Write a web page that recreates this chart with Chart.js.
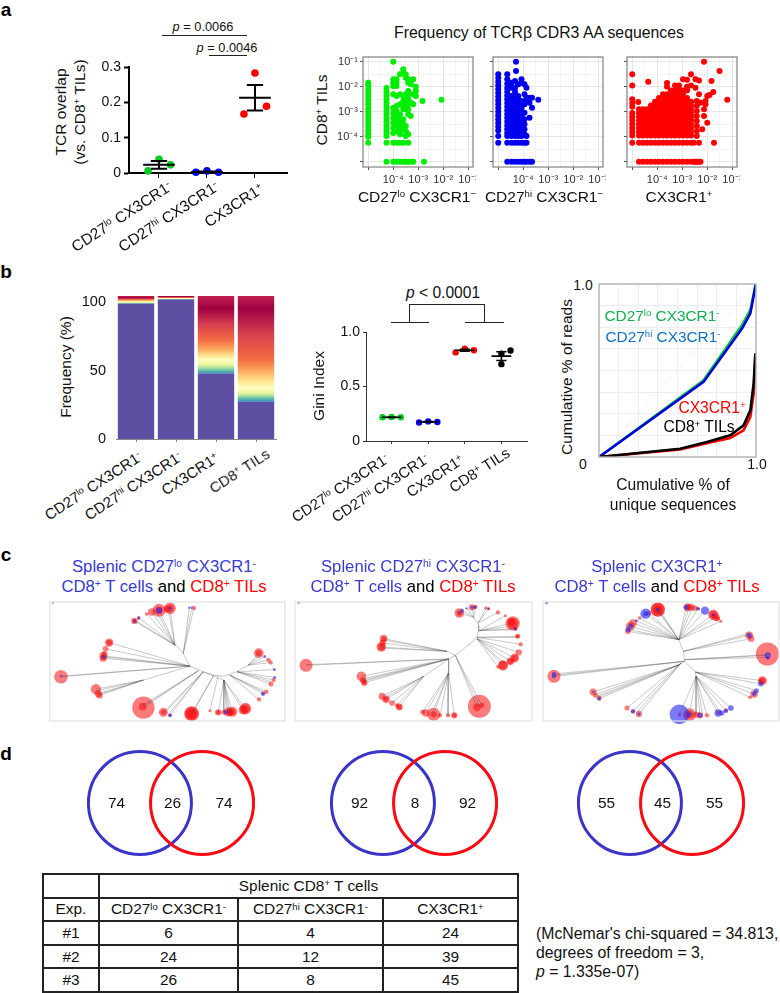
<!DOCTYPE html>
<html>
<head>
<meta charset="utf-8">
<title>TCR repertoire figure</title>
<script src="https://cdn.jsdelivr.net/npm/chart.js@4"></script>
<style>
  html, body { margin: 0; padding: 0; background: #fff; }
  body { position: relative; width: 780px; height: 993px; overflow: hidden; font-family: "Liberation Sans", Arial, sans-serif; color: #111; }
  canvas { position: absolute; display: block; }
  .lab { position: absolute; white-space: nowrap; line-height: 1; }
  .rule { position: absolute; background: #222; }
  sup { font-size: 0.62em; line-height: 0; vertical-align: baseline; position: relative; top: -0.5em; }
  table { position: absolute; left: 42px; top: 873px; width: 475px; height: 120px; border-collapse: collapse; table-layout: fixed; font-size: 15.4px; }
  td { border: 2px solid #222; text-align: center; padding: 0; color: #111; }
</style>
</head>
<body>
<script>
// ---- panel a, left: TCR overlap
const subsetNames = ["CD27<sup>lo</sup> CX3CR1<sup>-</sup>", "CD27<sup>hi</sup> CX3CR1<sup>-</sup>", "CX3CR1<sup>+</sup>"];
const overlapLo = [0.006, 0.039, 0.023];
const overlapHi = [0.002, 0.006, 0.002];
const overlapPos = [0.167, 0.283, 0.189];
const overlapMean = [0.023, 0.003, 0.213];
const overlapSem = [0.011, 0.001, 0.036];

// ---- panel a, right: frequencies (log10), one y list per x column
const loX = [-5, -4.27, -4, -3.87, -3.73, -3.6, -3.5, -3.4, -3.3, -3.2, -3.1, -2.83, -2.77, -2.07];
const loY = [
  [-1.84, -1.95, -2.1, -2.25, -2.4, -2.55, -2.7, -2.85, -3, -3.15, -3.3, -3.45, -3.6, -3.75, -3.9, -4, -4.24],
  [-2.05, -2.2, -2.35, -2.5, -2.65, -2.8, -2.95, -3.1, -3.25, -3.4, -3.55, -3.7, -3.85, -3.97, -4.24, -5],
  [-1, -1.7, -1.84, -1.97, -2.3, -2.85, -3.05, -3.25, -3.45, -3.65, -3.85, -4.24, -5],
  [-1.7, -1.84, -1.97, -2.37, -2.77, -2.97, -3.17, -3.37, -3.57, -3.77, -4.24, -5],
  [-1.5, -2.3, -2.7, -3.1, -3.3, -3.5, -3.7, -3.9, -4.24, -5],
  [-1.3, -1.45, -2.37, -2.57, -2.7, -2.9, -3.3, -3.5, -3.7, -4.24, -5],
  [-1.5, -1.64, -2.3, -2.44, -2.64, -2.77, -2.9, -3.57, -3.77, -3.97, -5],
  [-1.7, -1.84, -2.17, -2.3, -2.5, -2.7, -2.9, -3.1, -3.9, -4.24, -5],
  [-1.77, -1.9, -2.64, -3.17, -5],
  [-1.7, -2.3, -2.7, -5],
  [-2, -2.17, -2.37],
  [-2.57],
  [-5],
  [-2.52]
];
const hiX = [-5, -4.64, -4.47, -4.33, -4.29, -4.2, -4.07, -3.95, -3.87, -3.75, -3.65, -3.4];
const hiY = [
  [-1.5, -1.65, -1.8, -1.95, -2.1, -2.25, -2.4, -2.55, -2.7, -2.85, -3, -3.15, -3.3, -3.45, -3.6, -3.75, -3.97, -4.24],
  [-1.5, -1.7, -1.88, -2.05, -2.2, -2.35, -2.5, -2.65, -2.8, -2.95, -3.1, -3.25, -3.4, -3.55, -3.7, -3.85, -3.97, -4.24, -5],
  [-1.84, -2.04, -2.37, -2.5, -2.65, -2.8, -2.95, -3.1, -3.25, -3.4, -3.55, -3.7, -3.85, -3.97, -4.24, -5],
  [-1.77, -2.04, -2.2, -2.35, -2.5, -2.65, -2.8, -2.95, -3.1, -3.25, -3.4, -3.55, -3.7, -3.85, -3.97, -4.24, -5],
  [-1, -1.37],
  [-1.9, -2.37, -2.5, -2.65, -2.8, -2.95, -3.1, -3.25, -3.4, -3.55, -3.7, -3.85, -3.97, -4.24, -5],
  [-1.7, -1.84, -2.57, -2.7, -2.85, -3, -3.15, -3.3, -3.45, -3.6, -3.75, -3.97, -4.24, -5],
  [-1.9, -2.3, -2.7, -3.04, -3.3, -3.5, -3.7, -3.9, -4.24, -5],
  [-2.04, -2.44, -2.57, -3.97, -4.24, -5],
  [-2.44, -2.64, -3.24, -5],
  [-2.44, -2.84, -5],
  [-2.52]
];
const posX = [-5, -4.76, -4.73, -4.57, -4.41, -4.36, -4.25, -4.09, -3.93, -3.77, -3.61, -3.45, -3.29, -3.13, -2.97, -2.81, -2.65, -2.53, -2.47, -2.42, -2.33, -2.27, -2.2, -2.13, -2.07, -2, -1.91, -1.83, -1.76, -1.73, -1.51, -1.2];
const posY = [
  [-1.5, -1.95, -2.5, -2.65, -2.8, -3.05, -3.2, -3.35, -3.5, -3.65, -3.8, -3.95, -4.24],
  [-2.61],
  [-2.9, -3.05, -3.2, -3.35, -3.5, -3.65, -3.8, -3.95, -4.24, -5],
  [-2.9, -3.05, -3.2, -3.35, -3.5, -3.65, -3.8, -3.95, -4.24, -5],
  [-2.9, -3.05, -3.2, -3.35, -3.5, -3.65, -3.8, -3.95, -4.24, -5],
  [-1.8],
  [-2.75, -2.9, -3.05, -3.2, -3.35, -3.5, -3.65, -3.8, -3.95, -4.24, -5],
  [-2.6, -2.75, -2.9, -3.05, -3.2, -3.35, -3.5, -3.65, -3.8, -3.95, -4.24, -5],
  [-2.45, -2.6, -2.75, -2.9, -3.05, -3.2, -3.35, -3.5, -3.65, -3.8, -3.95, -4.24, -5],
  [-2.3, -2.45, -2.6, -2.75, -2.9, -3.05, -3.2, -3.35, -3.5, -3.65, -3.8, -3.95, -4.24, -5],
  [-1.85, -2, -2.3, -2.45, -2.6, -2.75, -2.9, -3.05, -3.2, -3.35, -3.5, -3.65, -3.8, -3.95, -4.24, -5],
  [-2.15, -2.3, -2.45, -2.6, -2.75, -2.9, -3.05, -3.2, -3.35, -3.5, -3.65, -3.8, -3.95, -4.24, -5],
  [-1.95, -2.15, -2.3, -2.45, -2.6, -2.75, -2.9, -3.05, -3.2, -3.35, -3.5, -3.65, -3.8, -3.95, -4.24, -5],
  [-1.95, -2.1, -2.25, -2.45, -2.6, -2.75, -2.9, -3.05, -3.2, -3.35, -3.5, -3.65, -3.8, -3.95, -4.24, -5],
  [-1.7, -2.15, -2.3, -2.45, -2.6, -2.75, -2.9, -3.05, -3.2, -3.35, -3.5, -3.65, -3.8, -3.95, -4.24, -5],
  [-1.72, -2, -2.15, -2.45, -2.6, -2.75, -2.9, -3.05, -3.2, -3.35, -3.5, -3.65, -3.8, -3.95, -4.24, -5],
  [-1.5, -1.95, -2.6, -2.75, -2.9, -3.05, -3.2, -3.35, -3.5, -3.65, -3.8, -3.95, -4.24, -5],
  [-4.24, -5],
  [-1.7, -2.04, -5],
  [-2.57, -2.77, -2.97, -3.17, -3.37, -3.57, -3.77, -3.97, -5],
  [-1.75, -2.3, -4.24, -5],
  [-2.64, -5],
  [-3.7],
  [-1, -2.9, -3.17],
  [-2.57, -2.7],
  [-2.37, -3.44],
  [-2.33],
  [-1.77],
  [-2.21],
  [-4.24],
  [-1.37],
  [-2.52]
];
const freqTickLabels = ["10\u207B\u2074", "10\u207B\u00B3", "10\u207B\u00B2", "10\u207B\u00B9"];

// ---- panel b
const cloneNames = ["CD27<sup>lo</sup> CX3CR1<sup>-</sup>", "CD27<sup>hi</sup> CX3CR1<sup>-</sup>", "CX3CR1<sup>+</sup>", "CD8<sup>+</sup> TILs"];
const topClones = [98.7, 101.7, 47.7, 27.2];
const otherClones = [5.7, 2.7, 56.7, 77.2];
const spectralColors = ["#3288bd", "#66c2a5", "#abdda4", "#e6f598", "#ffffbf", "#fee08b", "#fdae61", "#f46d43", "#d53e4f", "#9e0142", "#c2204f"];
const bandLevels = [
  [98.7, 99, 99.2, 99.5, 100, 100.6, 101.2, 101.7, 102.4, 103, 104.4],
  [101.7, 102, 102.2, 102.4, 102.6, 102.8, 103, 103.2, 103.6, 104, 104.4],
  [47.7, 50, 52, 54, 58, 61, 65, 72, 84, 95, 104.4],
  [27.2, 29.9, 31.5, 33.5, 37, 43, 49, 58, 77, 95, 104.4]
];
const giniLo = [0.218, 0.22, 0.218];
const giniHi = [0.17, 0.18, 0.175];
const giniPos = [0.813, 0.846, 0.832];
const giniTil = [0.8, 0.705, 0.83];
const giniMean = [0.218, 0.175, 0.832, 0.779];
const giniSem = [0.001, 0.003, 0.009, 0.04];
const lorenzX = [0, 0.666, 0.911, 0.964, 0.996, 1];
const lorenzLo = [0, 0.444, 0.763, 0.85, 0.99, 1];
const lorenzHi = [0, 0.434, 0.743, 0.83, 0.985, 1];
const lorenzSharedX = [0, 0.517, 0.687, 0.836, 0.921, 0.964, 0.985, 0.996];
const lorenzPos = [0, 0.044, 0.08, 0.11, 0.154, 0.232, 0.367, 0.58];
const lorenzTil = [0, 0.048, 0.087, 0.125, 0.183, 0.27, 0.425, 0.6];

// ---- panel c: clone trees, in layout units; fans are [hubX, hubY, leafX, leafY, ...], bubbles [x, y, r]
const tree1Trunk = [[515, 300, 550, 340, 570, 378, 610, 395, 640, 405, 670, 408, 710, 395, 745, 375], [570, 378, 430, 420], [610, 395, 672, 420]];
const tree1Fans = [
  [525, 315, 477, 210, 510, 204, 455, 215, 440, 221, 470, 215, 505, 208, 403, 242, 416, 233, 405, 240],
  [550, 340, 568, 202, 582, 203, 575, 203],
  [570, 378, 327, 307, 316, 326, 310, 347, 309, 354, 312, 350],
  [570, 378, 182, 410, 182, 408],
  [430, 420, 287, 447, 294, 460, 298, 466, 300, 462, 290, 452],
  [595, 392, 430, 503, 428, 500, 425, 497],
  [610, 395, 490, 517, 510, 526, 495, 517, 505, 524],
  [642, 405, 575, 521, 578, 519],
  [655, 406, 630, 512],
  [672, 420, 655, 517, 672, 517, 685, 516, 697, 515, 680, 515, 690, 516, 737, 506, 730, 510],
  [690, 405, 778, 478, 800, 455, 790, 461, 795, 458],
  [712, 395, 814, 432, 822, 420, 825, 412, 824, 388, 815, 425],
  [745, 375, 813, 367, 806, 359, 795, 349, 777, 339, 785, 342]
];
const tree1Red = [[477, 210, 18], [477, 210, 10], [510, 204, 16], [510, 204, 10], [500, 206, 8], [455, 215, 10], [440, 221, 4], [403, 242, 8], [403, 242, 5], [416, 233, 4], [582, 203, 5], [327, 307, 11], [327, 307, 7], [316, 326, 7], [310, 347, 11], [309, 354, 9], [312, 342, 7], [182, 410, 19], [287, 447, 14], [294, 460, 9], [298, 466, 8], [430, 503, 32], [428, 500, 10], [490, 517, 12], [490, 517, 6], [510, 526, 4], [575, 521, 21], [575, 521, 19], [575, 521, 14], [630, 512, 3], [655, 517, 8], [655, 517, 5], [672, 517, 6], [685, 516, 12], [697, 515, 14], [697, 515, 9], [690, 517, 9], [737, 506, 16], [737, 506, 12], [730, 510, 12], [778, 478, 5], [800, 455, 5], [790, 461, 3], [814, 432, 6], [822, 420, 5], [813, 367, 5], [806, 359, 5], [777, 339, 13], [777, 339, 7]];
const tree1Blue = [[477, 210, 8], [510, 204, 3], [403, 242, 3], [416, 233, 3], [568, 202, 2], [575, 202, 2], [310, 350, 4], [182, 408, 2], [795, 349, 3], [790, 461, 5], [825, 412, 3], [824, 388, 3], [678, 517, 5], [510, 526, 4], [158, 187, 2]];

const tree2Trunk = [[545, 58, 560, 80, 560, 100, 553, 122, 490, 172, 470, 183], [490, 172, 465, 160], [470, 183, 395, 235], [470, 183, 470, 225]];
const tree2Fans = [
  [465, 160, 275, 122, 272, 135, 268, 147, 266, 150, 274, 126],
  [470, 183, 42, 202, 42, 200],
  [470, 183, 208, 235, 213, 247, 217, 254, 212, 243, 214, 250],
  [395, 235, 270, 295, 282, 304, 300, 315, 322, 327, 315, 322, 278, 300],
  [470, 225, 392, 342, 402, 345, 425, 349, 444, 352, 468, 352, 487, 352, 420, 345],
  [490, 172, 562, 325, 555, 328, 570, 322],
  [555, 122, 633, 202, 655, 190, 668, 180, 680, 163, 618, 207, 640, 198],
  [555, 118, 677, 115, 686, 139, 675, 118],
  [562, 98, 660, 75, 670, 92, 640, 53, 650, 85, 662, 95],
  [558, 75, 618, 43, 582, 30, 590, 32],
  [545, 58, 502, 45, 510, 38, 524, 31, 540, 28, 550, 27]
];
const tree2Red = [[502, 45, 13], [502, 45, 7], [540, 28, 8], [550, 27, 5], [582, 30, 4], [590, 32, 3], [618, 43, 5], [640, 53, 3], [662, 76, 20], [662, 76, 15], [658, 72, 10], [670, 92, 5], [677, 115, 6], [677, 115, 4], [686, 139, 5], [680, 163, 8], [668, 180, 12], [668, 180, 8], [655, 190, 10], [655, 190, 7], [633, 202, 14], [633, 202, 12], [618, 207, 4], [562, 325, 33], [555, 328, 10], [570, 322, 6], [487, 352, 8], [487, 352, 5], [468, 352, 5], [444, 352, 5], [425, 349, 18], [425, 349, 8], [402, 345, 10], [392, 342, 6], [322, 327, 9], [322, 327, 6], [315, 322, 5], [300, 315, 7], [282, 304, 10], [282, 304, 6], [270, 295, 9], [217, 254, 8], [217, 254, 5], [213, 247, 8], [208, 235, 13], [275, 122, 10], [275, 122, 6], [272, 135, 8], [268, 147, 13], [268, 147, 9], [42, 202, 18]];
const tree2Blue = [[510, 38, 4], [524, 31, 2], [540, 28, 3], [550, 27, 3], [502, 45, 2], [590, 32, 2], [670, 93, 3], [20, 14, 2]];

const tree3Trunk = [[418, 125, 432, 160, 436, 190, 468, 222], [436, 190, 420, 200], [468, 222, 470, 235]];
const tree3Fans = [
  [418, 125, 355, 35, 350, 32, 360, 35],
  [418, 125, 318, 47, 328, 45, 300, 60],
  [418, 125, 265, 100, 272, 85, 280, 75, 290, 68, 268, 95],
  [418, 125, 440, 28, 450, 25, 460, 28, 475, 32, 497, 38, 522, 50, 530, 58, 545, 70],
  [432, 160, 630, 112, 637, 122, 628, 107],
  [436, 185, 685, 172, 688, 178, 683, 170],
  [436, 190, 42, 232, 42, 228, 44, 235],
  [420, 200, 160, 282, 165, 290, 175, 298, 178, 302, 170, 295],
  [425, 195, 262, 330, 280, 340, 298, 348, 290, 345],
  [470, 235, 420, 350, 450, 350, 470, 350, 482, 352, 503, 352, 490, 350],
  [468, 222, 670, 248, 665, 258, 652, 278, 645, 288, 633, 298],
  [470, 235, 537, 345, 560, 338, 575, 330, 545, 345]
];
const tree3Red = [[355, 35, 20], [355, 35, 19], [355, 35, 12], [328, 45, 6], [300, 60, 4], [280, 75, 10], [272, 85, 12], [265, 100, 7], [445, 28, 11], [445, 28, 7], [455, 28, 9], [465, 30, 7], [478, 32, 3], [522, 50, 14], [522, 50, 10], [530, 58, 10], [535, 62, 6], [545, 70, 3], [630, 112, 10], [636, 122, 8], [685, 168, 33], [688, 180, 3], [670, 248, 12], [670, 248, 8], [665, 250, 6], [645, 288, 10], [633, 298, 4], [42, 235, 18], [160, 282, 9], [167, 292, 6], [178, 300, 6], [262, 330, 6], [280, 340, 5], [298, 348, 8], [420, 350, 4], [450, 350, 18], [450, 350, 10], [470, 350, 8], [482, 352, 8], [503, 352, 5], [537, 345, 5], [560, 338, 5]];
const tree3Blue = [[420, 349, 28], [318, 47, 14], [318, 47, 6], [497, 38, 11], [440, 28, 6], [475, 32, 4], [290, 68, 3], [272, 85, 6], [265, 95, 6], [630, 112, 6], [686, 172, 8], [685, 180, 3], [665, 258, 6], [652, 278, 6], [645, 288, 5], [42, 228, 5], [42, 235, 5], [178, 302, 4], [160, 282, 2], [280, 340, 5], [298, 348, 3], [450, 350, 5], [482, 352, 6], [537, 345, 10], [548, 345, 6], [560, 338, 5], [575, 330, 7], [355, 35, 4], [522, 50, 3], [20, 14, 3]];

// ---- panel d
const vennOnly = [74, 92, 55];
const vennShared = [26, 8, 45];
const expNames = ["#1", "#2", "#3"];
const expLo = [6, 24, 26];
const expHi = [4, 12, 8];
const expPos = [24, 39, 45];

Chart.defaults.font.family = '"Liberation Sans", Arial, sans-serif';
Chart.defaults.animation = false;
Chart.defaults.responsive = false;
Chart.defaults.plugins.legend.display = false;
Chart.defaults.plugins.tooltip.enabled = false;
Chart.defaults.color = "#222";

const RED = "#ff0000";
const GREEN = "#00cc22";
const BLUE = "#0000ee";
const TEXT_BLUE = "#3a3ad2";

function label(x, y, html, opts = {}) {
    const el = document.createElement("div");
    el.className = "lab";
    el.innerHTML = html;
    el.style.left = x + "px";
    el.style.top = y + "px";
    el.style.fontSize = (opts.size || 15.5) + "px";
    if (opts.color) el.style.color = opts.color;
    if (opts.align === "right") {
        el.style.transformOrigin = "100% 50%";
        el.style.transform = `translate(-100%,-50%) rotate(${opts.rot || 0}deg)`;
    } else {
        el.style.transform = `translate(-50%,-50%) rotate(${opts.rot || 0}deg)`;
    }
    document.body.appendChild(el);
}

function rule(x1, y1, x2, y2, color) {
    const el = document.createElement("div");
    el.className = "rule";
    el.style.left = Math.min(x1, x2) + "px";
    el.style.top = Math.min(y1, y2) + "px";
    el.style.width = Math.max(Math.abs(x2 - x1), 1) + "px";
    el.style.height = Math.max(Math.abs(y2 - y1), 1) + "px";
    if (color) el.style.background = color;
    document.body.appendChild(el);
}

// canvas placed so the plot area lands on [x0,x1]x[y0,y1]; m = margins left/top/right/bottom
function makeCanvas(x0, y0, x1, y1, m) {
    const c = document.createElement("canvas");
    c.width = x1 - x0 + m[0] + m[2];
    c.height = y1 - y0 + m[1] + m[3];
    c.style.left = x0 - m[0] + "px";
    c.style.top = y0 - m[1] + "px";
    document.body.appendChild(c);
    return c;
}

function layoutFor(m) {
    return { autoPadding: false, padding: { left: 0, top: m[1], right: m[2], bottom: 0 } };
}

// axes keep a fixed size and do not ask for room for half a tick label
function fitX(height) {
    return s => { s.height = height; s.paddingLeft = 0; s.paddingRight = 0; };
}
function fitY(width) {
    return s => { s.width = width; s.paddingTop = 0; s.paddingBottom = 0; };
}

function frame(color, width) {
    return {
        id: "frame",
        afterDatasetsDraw(chart) {
            const a = chart.chartArea;
            const ctx = chart.ctx;
            ctx.save();
            ctx.strokeStyle = color;
            ctx.lineWidth = width;
            ctx.strokeRect(a.left, a.top, a.right - a.left, a.bottom - a.top);
            ctx.restore();
        },
    };
}

function setTicks(values) {
    return scale => { scale.ticks = values.map(value => ({ value })); };
}

function spreadPoints(position, values, offsets) {
    return values.map((v, i) => ({ x: position + offsets[i], y: v }));
}

// mean line with error whiskers for every group, gaps between pieces
function meanBars(means, sems, halfMean, halfCap) {
    const pts = [];
    const gap = { x: NaN, y: NaN };
    means.forEach((m, i) => {
        const x = i + 1;
        pts.push({ x: x - halfMean, y: m }, { x: x + halfMean, y: m }, gap);
        pts.push({ x, y: m - sems[i] }, { x, y: m + sems[i] }, gap);
        pts.push({ x: x - halfCap, y: m + sems[i] }, { x: x + halfCap, y: m + sems[i] }, gap);
        pts.push({ x: x - halfCap, y: m - sems[i] }, { x: x + halfCap, y: m - sems[i] }, gap);
    });
    return pts;
}

function dots(data, color, radius) {
    return { data, backgroundColor: color, borderWidth: 0, pointRadius: radius, clip: false };
}

function whiskers(data) {
    return { data, showLine: true, pointRadius: 0, borderColor: "#000", borderWidth: 2, spanGaps: false, clip: false };
}

// ---- a: overlap chart
(function () {
    const m = [40, 8, 3, 10];
    const offsets = [-0.23, 0, 0.24];
    new Chart(makeCanvas(129, 67, 287, 173, m), {
        type: "scatter",
        data: {
            datasets: [
                whiskers(meanBars(overlapMean, overlapSem, 0.33, 0.17)),
                dots(spreadPoints(1, overlapLo, offsets), GREEN, 3.8),
                dots(spreadPoints(2, overlapHi, offsets), BLUE, 3.8),
                dots(spreadPoints(3, overlapPos, offsets), RED, 3.8),
            ],
        },
        options: {
            layout: layoutFor(m),
            scales: {
                x: {
                    type: "linear", min: 0.375, max: 3.667,
                    afterBuildTicks: setTicks([1, 2, 3]),
                    afterFit: fitX(m[3]),
                    grid: { drawOnChartArea: false, tickLength: 5, tickColor: "#000", tickWidth: 1 },
                    border: { color: "#000", width: 2 },
                    ticks: { callback: () => "" },
                },
                y: {
                    min: 0, max: 0.3,
                    afterBuildTicks: setTicks([0, 0.1, 0.2, 0.3]),
                    afterFit: fitY(m[0]),
                    grid: { drawOnChartArea: false, tickLength: 5, tickColor: "#000", tickWidth: 2 },
                    border: { color: "#000", width: 2 },
                    ticks: { font: { size: 14 }, color: "#111", padding: 3 },
                },
            },
        },
    });
})();

// ---- a: frequency scatter panels
function columnsToPoints(xs, ys) {
    const pts = [];
    xs.forEach((x, i) => ys[i].forEach(y => pts.push({ x, y })));
    return pts;
}

function freqChart(x0, xs, ys, color, showY) {
    const m = [32, 6, 3, 22];
    const gridAt = [-5, -4.5, -4, -3.5, -3, -2.5, -2, -1.5, -1];
    const grid = {
        color: c => Number.isInteger(c.tick && c.tick.value) ? "#e6e6e6" : "#f3f3f3",
        tickColor: c => Number.isInteger(c.tick && c.tick.value) ? "#555" : "rgba(0,0,0,0)",
        tickLength: 3,
    };
    const tickText = v => (Number.isInteger(v) && v > -5 ? freqTickLabels[v + 4] : "");
    new Chart(makeCanvas(x0, 57, x0 + 110, 167, m), {
        type: "scatter",
        data: { datasets: [{ data: columnsToPoints(xs, ys), backgroundColor: color, borderWidth: 0, pointRadius: 3 }] },
        options: {
            layout: layoutFor(m),
            scales: {
                x: {
                    type: "linear", min: -5.21, max: -0.81,
                    afterBuildTicks: setTicks(gridAt),
                    afterFit: fitX(m[3]),
                    grid,
                    border: { display: false },
                    ticks: { callback: tickText, autoSkip: false, maxRotation: 0, font: { size: 11 }, color: "#333", padding: 3 },
                },
                y: {
                    min: -5.21, max: -0.81,
                    afterBuildTicks: setTicks(gridAt),
                    afterFit: fitY(m[0]),
                    grid,
                    border: { display: false },
                    ticks: { callback: v => (showY ? tickText(v) : ""), autoSkip: false, font: { size: 11 }, color: "#333", padding: 2 },
                },
            },
        },
        plugins: [frame("#808080", 1.2)],
    });
}
freqChart(363, loX, loY, "#00ee00", true);
freqChart(493, hiX, hiY, "#0000ee", false);
freqChart(627, posX, posY, "#ff0000", false);

// ---- b: stacked clone bars, gradient follows the band levels of each bar
(function () {
    const m = [40, 6, 1, 8];
    new Chart(makeCanvas(116, 296, 276, 439, m), {
        type: "bar",
        data: {
            labels: cloneNames,
            datasets: [
                { data: topClones, backgroundColor: "#5e4fa2", barPercentage: 0.91, categoryPercentage: 1 },
                {
                    data: otherClones, barPercentage: 0.91, categoryPercentage: 1,
                    backgroundColor(c) {
                        const chart = c.chart;
                        if (!chart.chartArea || c.dataIndex === undefined) return "#d53e4f";
                        const levels = bandLevels[c.dataIndex];
                        const y = chart.scales.y;
                        const lo = levels[0], hi = levels[levels.length - 1];
                        const g = chart.ctx.createLinearGradient(0, y.getPixelForValue(lo), 0, y.getPixelForValue(hi));
                        levels.forEach((v, i) => g.addColorStop((v - lo) / (hi - lo), spectralColors[i]));
                        return g;
                    },
                },
            ],
        },
        options: {
            layout: layoutFor(m),
            scales: {
                x: {
                    stacked: true,
                    afterFit: fitX(m[3]),
                    grid: { drawOnChartArea: false, offset: false, tickLength: 3, tickColor: "#888" },
                    border: { color: "#888", width: 1 },
                    ticks: { callback: () => "" },
                },
                y: {
                    stacked: true, min: 0, max: 104.4,
                    afterBuildTicks: setTicks([0, 50, 100]),
                    afterFit: fitY(m[0]),
                    grid: { display: false },
                    border: { display: false },
                    ticks: { font: { size: 14.5 }, color: "#111", padding: 2 },
                },
            },
        },
    });
})();

// ---- b: Gini index
(function () {
    const m = [40, 8, 3, 10];
    const wide = [-0.25, 0, 0.25];
    const tilOffsets = [0, 0, 0.25];
    new Chart(makeCanvas(366, 332, 527, 441, m), {
        type: "scatter",
        data: {
            datasets: [
                { ...whiskers(meanBars(giniMean, giniSem, 0.27, 0.14)), borderWidth: 1.6 },
                dots(spreadPoints(1, giniLo, wide), GREEN, 3.2),
                dots(spreadPoints(2, giniHi, wide), BLUE, 3.2),
                dots(spreadPoints(3, giniPos, wide), RED, 3.2),
                dots(spreadPoints(4, giniTil, tilOffsets), "#000", 3.2),
            ],
        },
        options: {
            layout: layoutFor(m),
            scales: {
                x: {
                    type: "linear", min: 0.3, max: 4.7,
                    afterBuildTicks: setTicks([1, 2, 3, 4]),
                    afterFit: fitX(m[3]),
                    grid: { drawOnChartArea: false, tickLength: 3, tickColor: "#333" },
                    border: { color: "#333", width: 1 },
                    ticks: { callback: () => "" },
                },
                y: {
                    min: 0, max: 1,
                    afterBuildTicks: setTicks([0, 0.5, 1]),
                    afterFit: fitY(m[0]),
                    grid: { drawOnChartArea: false, tickLength: 3, tickColor: "#333" },
                    border: { color: "#333", width: 1 },
                    ticks: {
                        font: { size: 14 }, color: "#111", padding: 3,
                        callback: v => (v === 0 ? "0" : v.toFixed(1)),
                    },
                },
            },
        },
    });
})();

// ---- b: cumulative curves
function zipXY(xs, ys) {
    return xs.map((x, i) => ({ x, y: ys[i] }));
}

(function () {
    const curve = (xs, ys, color) => ({
        data: zipXY(xs, ys), showLine: true, pointRadius: 0, borderColor: color, borderWidth: 2.6, tension: 0,
    });
    const gridAt = [0, 0.125, 0.25, 0.375, 0.5, 0.625, 0.75, 0.875, 1];
    const axis = {
        type: "linear", min: 0, max: 1,
        afterBuildTicks: setTicks(gridAt),
        grid: { color: "#eeeeee", drawTicks: false },
        border: { display: false },
        ticks: { display: false },
    };
    new Chart(makeCanvas(599, 284, 756, 457, [2, 2, 2, 2]), {
        type: "scatter",
        data: {
            datasets: [
                curve(lorenzSharedX, lorenzTil, "#000"),
                curve(lorenzSharedX, lorenzPos, RED),
                curve(lorenzX, lorenzHi, "#0000dd"),
                curve(lorenzX, lorenzLo, "#00cc33"),
                { data: zipXY([0, 1], [0, 1]), showLine: true, pointRadius: 0, borderColor: "#d8d8d8", borderWidth: 1, borderDash: [1, 2] },
            ],
        },
        options: {
            layout: { autoPadding: false, padding: 2 },
            scales: {
                x: { ...axis, afterFit: fitX(0) },
                y: { ...axis, afterFit: fitY(0) },
            },
        },
        plugins: [frame("#b4b4b4", 1.4)],
    });
})();

// ---- c: clone trees
function treeLines(trunk, fans) {
    const pts = [];
    const gap = { x: NaN, y: NaN };
    trunk.forEach(line => {
        for (let i = 0; i < line.length; i += 2) pts.push({ x: line[i], y: line[i + 1] });
        pts.push(gap);
    });
    fans.forEach(f => {
        for (let i = 2; i < f.length; i += 2) {
            pts.push({ x: f[0], y: f[1] }, { x: f[i], y: f[i + 1] }, gap);
        }
    });
    return pts;
}

function bubbles(list) {
    return list.map(b => ({ x: b[0], y: b[1], r: b[2] / 3 + 0.5 }));
}

function treeChart(x0, x1, xMin, xMax, yMin, yMax, trunk, fans, red, blue) {
    const hidden = { display: false };
    new Chart(makeCanvas(x0, 602, x1, 721, [1, 1, 1, 3]), {
        type: "bubble",
        data: {
            datasets: [
                { type: "scatter", data: treeLines(trunk, fans), showLine: true, pointRadius: 0, borderColor: "rgba(70,70,70,0.42)", borderWidth: 0.7, spanGaps: false, order: 0 },
                { data: bubbles(blue), backgroundColor: "rgba(40,40,245,0.62)", borderWidth: 0, order: 1, clip: false },
                { data: bubbles(red), backgroundColor: "rgba(255,0,0,0.52)", borderWidth: 0, order: 2, clip: false },
            ],
        },
        options: {
            layout: { autoPadding: false, padding: { left: 1, top: 1, right: 1, bottom: 3 } },
            scales: {
                x: { ...hidden, type: "linear", min: xMin, max: xMax },
                y: { ...hidden, type: "linear", min: yMin, max: yMax, reverse: true },
            },
        },
        plugins: [frame("#e2e2e2", 1.2)],
    });
}
treeChart(50, 285, 149, 856, 185, 543, tree1Trunk, tree1Fans, tree1Red, tree1Blue);
treeChart(295, 532, 9, 720, 12, 369, tree2Trunk, tree2Fans, tree2Red, tree2Blue);
treeChart(543, 779, 9, 720, 12, 369, tree3Trunk, tree3Fans, tree3Red, tree3Blue);

// ---- d: venn circles
function vennChart(cx) {
    const span = { display: false, type: "linear" };
    new Chart(makeCanvas(cx - 87, 746, cx + 87, 860, [0, 0, 0, 0]), {
        type: "bubble",
        data: {
            datasets: [
                { data: [{ x: 1, y: 0, r: 51.5 }], backgroundColor: "rgba(0,0,0,0)", borderColor: "#fb0a14", borderWidth: 3 },
                { data: [{ x: -1, y: 0, r: 51.5 }], backgroundColor: "rgba(0,0,0,0)", borderColor: "#3a34c8", borderWidth: 3 },
            ],
        },
        options: {
            layout: { autoPadding: false, padding: 0 },
            scales: { x: { ...span, min: -2.8, max: 2.8 }, y: { ...span, min: -1, max: 1 } },
        },
    });
}
[170.75, 413.5, 661].forEach(vennChart);

// ---- text
label(6, 9, "a", { size: 19 });
label(6, 271, "b", { size: 19 });
label(6, 554, "c", { size: 19 });
label(6, 753, "d", { size: 19 });
document.querySelectorAll(".lab").forEach(el => { el.style.fontWeight = "bold"; el.style.color = "#000"; });

label(203, 27, "<i>p</i> = 0.0066", { size: 12.8 });
label(227, 48, "<i>p</i> = 0.0046", { size: 12.8 });
rule(162, 35, 247, 35);
rule(209, 55, 247, 55);
label(61, 112, "TCR overlap", { rot: -90 });
label(80, 112, "(vs. CD8<sup>+</sup> TILs)", { rot: -90 });
[[170, 185], [217, 185], [262, 187]].forEach((p, i) => label(p[0], p[1], subsetNames[i], { align: "right", rot: -33, size: 15.5 }));

label(539, 33, "Frequency of TCR\u03B2 CDR3 AA sequences", { size: 15.8 });
label(322, 110, "CD8<sup>+</sup> TILs", { rot: -90 });
[417, 544, 679].forEach((x, i) => label(x, 197, subsetNames[i].replace("<sup>-</sup>", "<sup>\u2212</sup>"), { size: 15.5 }));

label(66, 367, "Frequency (%)", { rot: -90 });
[[140, 455], [180, 455], [217, 456], [268, 452]].forEach((p, i) => label(p[0], p[1], cloneNames[i], { align: "right", rot: -33, size: 15 }));

label(443, 293, "<i>p</i> &lt; 0.0001", { size: 15.6 });
rule(409, 304, 484, 304);
rule(409, 304, 409, 322);
rule(484, 304, 484, 322);
rule(391, 322, 429, 322);
rule(465, 322, 504, 322);
label(319, 386, "Gini Index", { rot: -90 });
[[387, 457], [427, 457], [462, 458], [508, 451]].forEach((p, i) => label(p[0], p[1], cloneNames[i], { align: "right", rot: -33, size: 15 }));

label(583, 285, "1.0", { size: 14 });
label(583, 464, "0", { size: 14 });
label(757, 464, "1.0", { size: 14 });
label(567, 377, "Cumulative % of reads", { rot: -90 });
label(673, 485, "Cumulative % of", { size: 15.6 });
label(673, 505, "unique sequences", { size: 15.6 });
label(662, 316, subsetNames[0], { color: "#12b050", size: 15.4 });
label(663, 337, subsetNames[1], { color: "#0f6fc6", size: 15.4 });
label(712, 408, subsetNames[2], { color: RED, size: 15.6 });
label(699, 427, cloneNames[3], { color: "#000", size: 15.6 });

const treeTitles = [
    [164, `Splenic ${subsetNames[0]}`],
    [413, `Splenic ${subsetNames[1]}`],
    [657, `Splenic ${subsetNames[2]}`],
];
treeTitles.forEach(t => {
    label(t[0], 567, t[1], { size: 16.7, color: TEXT_BLUE });
    label(t[0], 587, `<span style="color:${TEXT_BLUE}">CD8<sup>+</sup> T cells</span> and <span style="color:${RED}">CD8<sup>+</sup> TILs</span>`, { size: 16.7, color: "#000" });
});

[[116.5, 172.5, 224], [359.5, 415, 467.5], [606.5, 662.5, 714.5]].forEach((xs, i) => {
    label(xs[0], 803, vennOnly[i], { size: 15.4 });
    label(xs[1], 803, vennShared[i], { size: 15.4 });
    label(xs[2], 803, vennOnly[i], { size: 15.4 });
});

// ---- d: table
const rows = expNames.map((name, i) => `<tr><td>${name}</td><td>${expLo[i]}</td><td>${expHi[i]}</td><td>${expPos[i]}</td></tr>`).join("");
const table = document.createElement("table");
table.innerHTML = `<colgroup><col style="width:56px"><col style="width:139px"><col style="width:145px"><col style="width:135px"></colgroup>
  <tr><td></td><td colspan="3">Splenic CD8<sup>+</sup> T cells</td></tr>
  <tr><td>Exp.</td><td>${subsetNames[0]}</td><td>${subsetNames[1]}</td><td>${subsetNames[2]}</td></tr>${rows}`;
document.body.appendChild(table);

const note = (y, html) => {
    const el = document.createElement("div");
    el.className = "lab";
    el.style.left = "536px";
    el.style.top = y - 8 + "px";
    el.style.fontSize = "15.8px";
    el.innerHTML = html;
    document.body.appendChild(el);
};
note(934, "(McNemar's chi-squared = 34.813,");
note(953, "degrees of freedom = 3,");
note(972, "<i>p</i> = 1.335e-07)");
</script>
</body>
</html>
